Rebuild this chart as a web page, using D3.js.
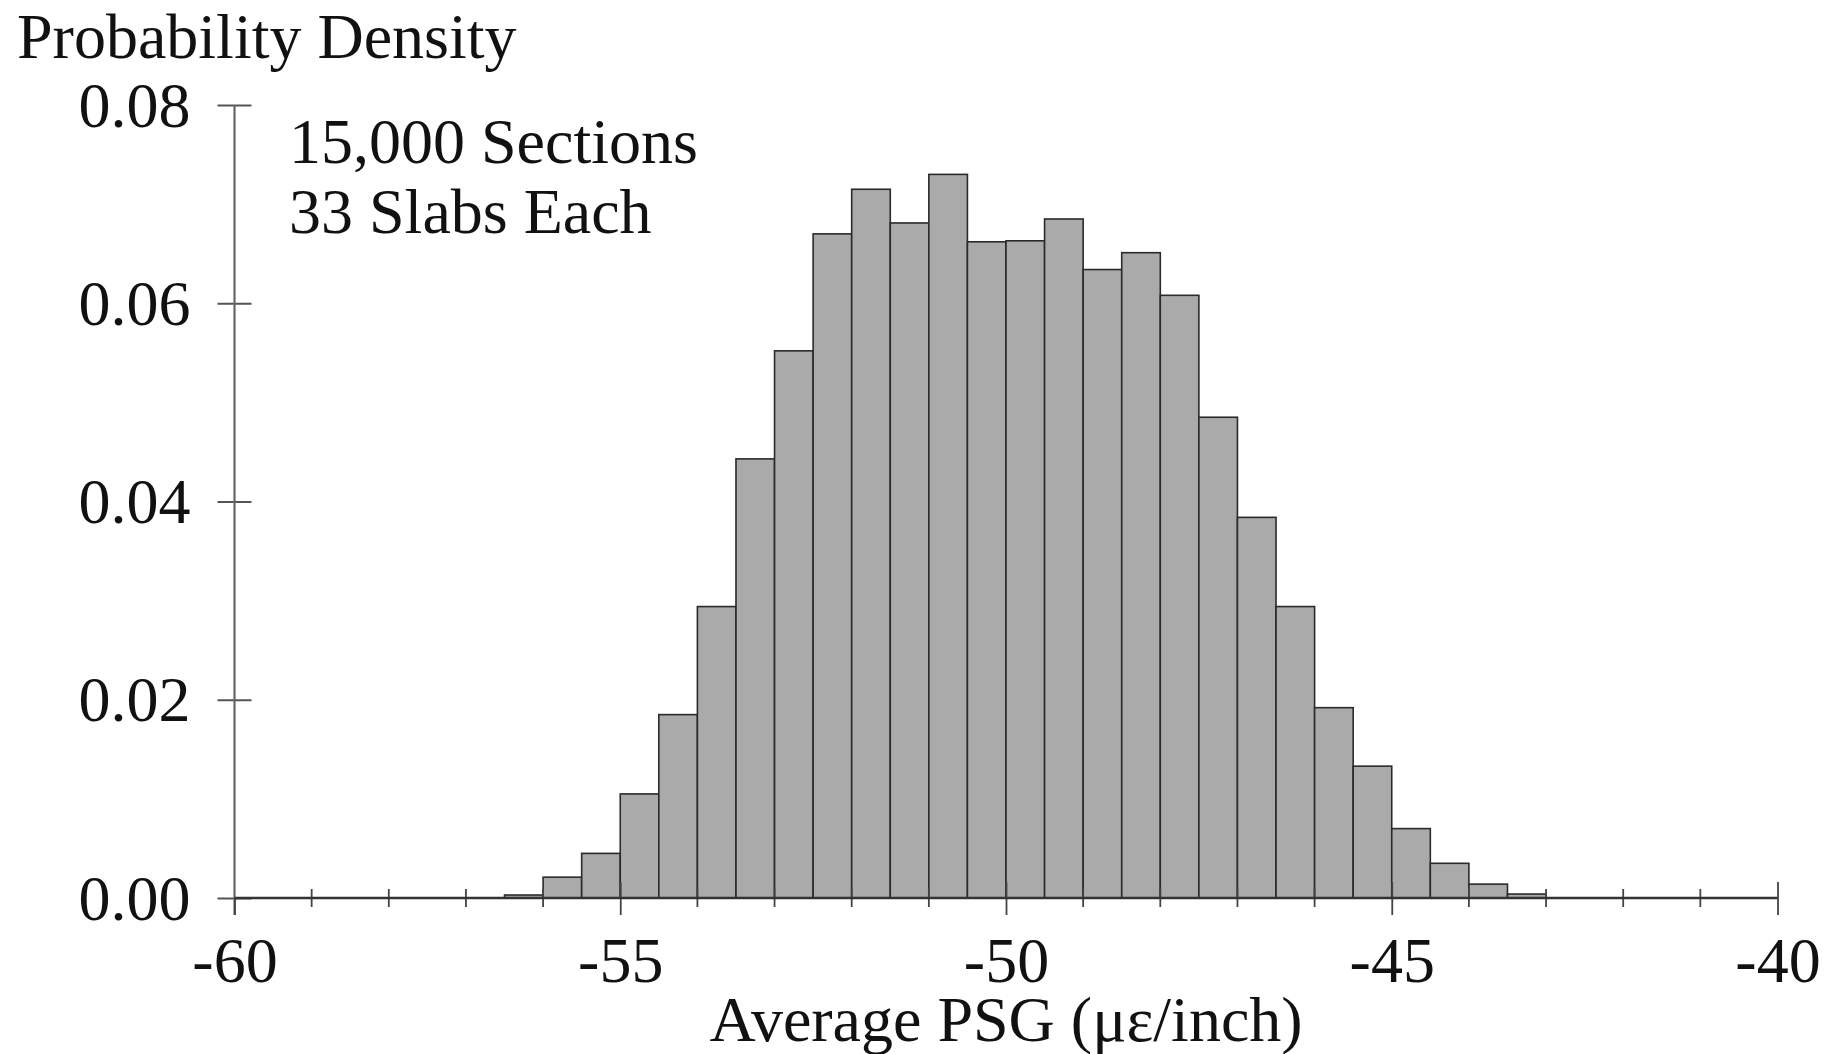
<!DOCTYPE html>
<html>
<head>
<meta charset="utf-8">
<script src="https://cdn.jsdelivr.net/npm/d3@7"></script>
<style>
  html, body { margin: 0; padding: 0; background: #fff; }
  svg { display: block; }
  text { font-family: "Liberation Serif", "DejaVu Serif", serif; fill: #111; }
</style>
</head>
<body>
<svg id="chart" width="1829" height="1054"></svg>
<script>
// Histogram of average PSG: bin left edges (0.5 wide) and probability densities
const binStarts = [-56.5, -56, -55.5, -55, -54.5, -54, -53.5, -53, -52.5, -52, -51.5, -51, -50.5,
                   -50, -49.5, -49, -48.5, -48, -47.5, -47, -46.5, -46, -45.5, -45, -44.5, -44, -43.5];
const densities = [0.0003, 0.0021, 0.0045, 0.0105, 0.0185, 0.0294, 0.0443, 0.0552, 0.0670, 0.0715,
                   0.0681, 0.0730, 0.0662, 0.0663, 0.0685, 0.0634, 0.0651, 0.0608, 0.0485, 0.0384,
                   0.0294, 0.0192, 0.0133, 0.0070, 0.0035, 0.0014, 0.0004];
const binWidth = 0.5;

const xMajorTicks = [-60, -55, -50, -45, -40];
const xMinorTicks = [-59, -58, -57, -56, -54, -53, -52, -51, -49, -48, -47, -46, -44, -43, -42, -41];
const yTicks = [0, 0.02, 0.04, 0.06, 0.08];

const yTitle = "Probability Density";
const xTitle = "Average PSG (\u03bc\u03b5/inch)";
const noteLines = ["15,000 Sections", "33 Slabs Each"];

const svg = d3.select("#chart");
const x = d3.scaleLinear().domain([-60, -40]).range([234.5, 1777.5]);
const y = d3.scaleLinear().domain([0, 0.08]).range([898, 105]);
const FS = 64;

const bins = binStarts.map((s, i) => ({ x0: s, x1: s + binWidth, v: densities[i] }));

// bars
svg.append("g").selectAll("rect").data(bins).join("rect")
  .attr("x", d => x(d.x0))
  .attr("y", d => y(d.v))
  .attr("width", d => x(d.x1) - x(d.x0))
  .attr("height", d => y(0) - y(d.v))
  .attr("fill", "#aaaaaa")
  .attr("stroke", "#2a2a2a")
  .attr("stroke-width", 1.6);

// y axis: ticks cross the spine
const yAxis = d3.axisLeft(y).tickValues(yTicks).tickFormat(d3.format(".2f")).tickSize(0).tickPadding(0);
const gy = svg.append("g").attr("transform", `translate(${x(-60)},0)`).call(yAxis);
gy.select(".domain").remove();
gy.selectAll(".tick line").attr("x1", -17).attr("x2", 17).attr("stroke", "#555").attr("stroke-width", 2);
gy.selectAll(".tick text")
  .attr("x", -44).attr("dy", null).attr("y", 21)
  .attr("font-size", FS).attr("font-family", "Liberation Serif").attr("fill", "#111");
svg.append("line")
  .attr("x1", x(-60)).attr("x2", x(-60)).attr("y1", y(0.08)).attr("y2", y(0) + 17)
  .attr("stroke", "#666").attr("stroke-width", 2.2);

// x axis (labels use a plain hyphen for the sign)
const xAxis = d3.axisBottom(x).tickValues(xMajorTicks).tickFormat(d => String(d)).tickSize(0).tickPadding(0);
const gx = svg.append("g").attr("transform", `translate(0,${y(0)})`).call(xAxis);
gx.select(".domain").remove();
gx.selectAll(".tick line").attr("y1", d => d === -60 ? 0 : -16).attr("y2", 17)
  .attr("stroke", "#444").attr("stroke-width", 1.8);
gx.selectAll(".tick text")
  .attr("y", 84).attr("dy", null)
  .attr("font-size", FS).attr("font-family", "Liberation Serif").attr("fill", "#111");
gx.selectAll(".minor").data(xMinorTicks).join("line").attr("class", "minor")
  .attr("x1", d => x(d)).attr("x2", d => x(d)).attr("y1", -9).attr("y2", 9)
  .attr("stroke", "#444").attr("stroke-width", 1.8);
svg.append("line")
  .attr("x1", x(-60)).attr("x2", x(-40)).attr("y1", y(0)).attr("y2", y(0))
  .attr("stroke", "#333").attr("stroke-width", 2.6);

// titles
svg.append("text").attr("x", 17).attr("y", 58).attr("font-size", FS).text(yTitle);
svg.append("text").attr("x", x(-50)).attr("y", 1041).attr("text-anchor", "middle")
  .attr("font-size", FS).text(xTitle);

// annotation
svg.append("g").selectAll("text").data(noteLines).join("text")
  .attr("x", 289).attr("y", (d, i) => 163 + i * 70)
  .attr("font-size", FS).text(d => d);
</script>
</body>
</html>
